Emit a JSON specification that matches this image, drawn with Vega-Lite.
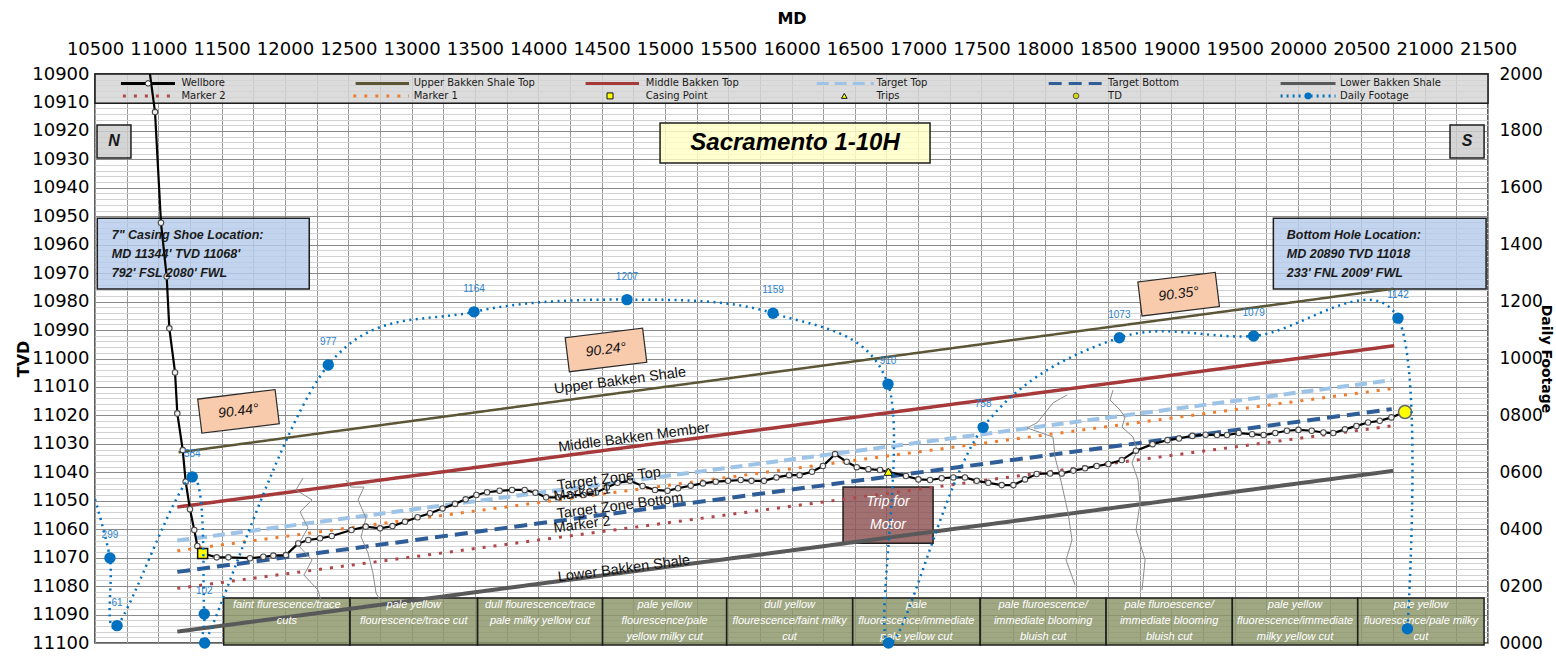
{
  "$schema": "https://vega.github.io/schema/vega-lite/v6.json",
  "width": 1393,
  "height": 569,
  "autosize": {"type": "none"},
  "padding": {"left": 95, "top": 74, "right": 68, "bottom": 20},
  "background": "#ffffff",
  "config": {
    "view": {"stroke": "#2b2b2b", "strokeWidth": 1.5},
    "font": "Liberation Sans",
    "axis": {"labelFont": "DejaVu Sans", "titleFont": "DejaVu Sans", "labelColor": "#000000", "titleColor": "#000000"}
  },
  "datasets": {
    "formations": [
      {"series": "Upper Bakken Shale Top", "MD": 11160, "TVD": 11033.0},
      {"series": "Upper Bakken Shale Top", "MD": 20750, "TVD": 10975.5},
      {"series": "Middle Bakken Top", "MD": 11150, "TVD": 11052.2},
      {"series": "Middle Bakken Top", "MD": 20760, "TVD": 10995.5},
      {"series": "Target Top", "MD": 11150, "TVD": 11064.0},
      {"series": "Target Top", "MD": 20740, "TVD": 11007.6},
      {"series": "Marker 1", "MD": 11150, "TVD": 11067.6},
      {"series": "Marker 1", "MD": 20740, "TVD": 11010.6},
      {"series": "Target Bottom", "MD": 11150, "TVD": 11075.0},
      {"series": "Target Bottom", "MD": 20740, "TVD": 11017.8},
      {"series": "Marker 2", "MD": 11150, "TVD": 11080.8},
      {"series": "Marker 2", "MD": 20740, "TVD": 11023.7},
      {"series": "Lower Bakken Shale", "MD": 11150, "TVD": 11096.0},
      {"series": "Lower Bakken Shale", "MD": 20750, "TVD": 11039.5}
    ],
    "gamma": [
      {"log": "a", "MD": 12143, "TVD": 11042.0}, {"log": "a", "MD": 12087, "TVD": 11046.2}, {"log": "a", "MD": 12214, "TVD": 11049.7}, {"log": "a", "MD": 12119, "TVD": 11053.9}, {"log": "a", "MD": 12182, "TVD": 11059.5}, {"log": "a", "MD": 12103, "TVD": 11065.6}, {"log": "a", "MD": 12214, "TVD": 11070.8}, {"log": "a", "MD": 12150, "TVD": 11076.1}, {"log": "a", "MD": 12261, "TVD": 11081.4}, {"log": "a", "MD": 12293, "TVD": 11086.6},
      {"log": "b", "MD": 12482, "TVD": 11042.7}, {"log": "b", "MD": 12522, "TVD": 11045.2}, {"log": "b", "MD": 12624, "TVD": 11045.2}, {"log": "b", "MD": 12577, "TVD": 11049.7}, {"log": "b", "MD": 12640, "TVD": 11056.1}, {"log": "b", "MD": 12601, "TVD": 11062.7}, {"log": "b", "MD": 12656, "TVD": 11068.4}, {"log": "b", "MD": 12695, "TVD": 11075.4}, {"log": "b", "MD": 12719, "TVD": 11082.4}, {"log": "b", "MD": 12751, "TVD": 11084.9},
      {"log": "c", "MD": 18176, "TVD": 11012.8}, {"log": "c", "MD": 18065, "TVD": 11015.6}, {"log": "c", "MD": 17939, "TVD": 11022.6}, {"log": "c", "MD": 17860, "TVD": 11024.4}, {"log": "c", "MD": 18065, "TVD": 11027.6}, {"log": "c", "MD": 18081, "TVD": 11034.6}, {"log": "c", "MD": 18121, "TVD": 11041.7}, {"log": "c", "MD": 18144, "TVD": 11046.2}, {"log": "c", "MD": 18184, "TVD": 11054.3}, {"log": "c", "MD": 18215, "TVD": 11063.8}, {"log": "c", "MD": 18168, "TVD": 11070.8}, {"log": "c", "MD": 18239, "TVD": 11079.6},
      {"log": "d", "MD": 18539, "TVD": 11011.1}, {"log": "d", "MD": 18515, "TVD": 11014.6}, {"log": "d", "MD": 18594, "TVD": 11018.1}, {"log": "d", "MD": 18634, "TVD": 11020.6}, {"log": "d", "MD": 18610, "TVD": 11024.1}, {"log": "d", "MD": 18697, "TVD": 11027.6}, {"log": "d", "MD": 18729, "TVD": 11032.2}, {"log": "d", "MD": 18689, "TVD": 11036.7}, {"log": "d", "MD": 18736, "TVD": 11042.7}, {"log": "d", "MD": 18752, "TVD": 11050.8}, {"log": "d", "MD": 18721, "TVD": 11060.3}, {"log": "d", "MD": 18792, "TVD": 11070.8}, {"log": "d", "MD": 18768, "TVD": 11081.4}
    ],
    "wellbore": [
      {"MD": 10934, "TVD": 10900.0}, {"MD": 10974, "TVD": 10913.4}, {"MD": 11021, "TVD": 10952.3}, {"MD": 11066, "TVD": 10971.2}, {"MD": 11087, "TVD": 10989.4}, {"MD": 11132, "TVD": 11004.9}, {"MD": 11150, "TVD": 11019.3}, {"MD": 11193, "TVD": 11032.2}, {"MD": 11216, "TVD": 11043.3}, {"MD": 11250, "TVD": 11053.0}, {"MD": 11284, "TVD": 11060.3}, {"MD": 11308, "TVD": 11065.9}, {"MD": 11350, "TVD": 11068.5},
      {"MD": 11461, "TVD": 11069.9}, {"MD": 11553, "TVD": 11069.9}, {"MD": 11724, "TVD": 11070.2}, {"MD": 11829, "TVD": 11069.7}, {"MD": 11908, "TVD": 11069.3}, {"MD": 12008, "TVD": 11069.1}, {"MD": 12105, "TVD": 11065.0}, {"MD": 12184, "TVD": 11063.8}, {"MD": 12277, "TVD": 11063.2}, {"MD": 12370, "TVD": 11062.4}, {"MD": 12525, "TVD": 11060.3}, {"MD": 12638, "TVD": 11059.1}, {"MD": 12751, "TVD": 11059.7}, {"MD": 12849, "TVD": 11058.9}, {"MD": 12948, "TVD": 11057.4}, {"MD": 13047, "TVD": 11055.8}, {"MD": 13146, "TVD": 11054.4}, {"MD": 13244, "TVD": 11052.7}, {"MD": 13343, "TVD": 11051.1}, {"MD": 13427, "TVD": 11049.5}, {"MD": 13512, "TVD": 11048.0}, {"MD": 13596, "TVD": 11047.0}, {"MD": 13695, "TVD": 11046.5}, {"MD": 13793, "TVD": 11046.2}, {"MD": 13893, "TVD": 11046.2}, {"MD": 13978, "TVD": 11047.2}, {"MD": 14062, "TVD": 11048.8}, {"MD": 14161, "TVD": 11048.8}, {"MD": 14259, "TVD": 11048.0}, {"MD": 14358, "TVD": 11048.0}, {"MD": 14456, "TVD": 11047.2}, {"MD": 14542, "TVD": 11045.3}, {"MD": 14626, "TVD": 11043.7}, {"MD": 14725, "TVD": 11043.0}, {"MD": 14824, "TVD": 11044.8}, {"MD": 14922, "TVD": 11046.2}, {"MD": 15021, "TVD": 11046.5}, {"MD": 15104, "TVD": 11045.6}, {"MD": 15204, "TVD": 11044.7}, {"MD": 15301, "TVD": 11043.9}, {"MD": 15402, "TVD": 11043.3}, {"MD": 15499, "TVD": 11043.0}, {"MD": 15599, "TVD": 11042.7}, {"MD": 15684, "TVD": 11043.0}, {"MD": 15783, "TVD": 11043.0}, {"MD": 15881, "TVD": 11041.8}, {"MD": 15981, "TVD": 11041.0}, {"MD": 16064, "TVD": 11041.0}, {"MD": 16162, "TVD": 11039.8}, {"MD": 16248, "TVD": 11037.8}, {"MD": 16344, "TVD": 11033.6}, {"MD": 16436, "TVD": 11036.3}, {"MD": 16515, "TVD": 11038.2}, {"MD": 16607, "TVD": 11038.9}, {"MD": 16699, "TVD": 11039.2}, {"MD": 16765, "TVD": 11039.8}, {"MD": 16904, "TVD": 11041.3}, {"MD": 17002, "TVD": 11042.5}, {"MD": 17094, "TVD": 11042.7}, {"MD": 17186, "TVD": 11042.1}, {"MD": 17278, "TVD": 11041.8}, {"MD": 17370, "TVD": 11041.8}, {"MD": 17463, "TVD": 11043.0}, {"MD": 17554, "TVD": 11043.7}, {"MD": 17660, "TVD": 11044.5}, {"MD": 17752, "TVD": 11044.5}, {"MD": 17844, "TVD": 11042.5}, {"MD": 17936, "TVD": 11040.6}, {"MD": 18042, "TVD": 11040.4}, {"MD": 18134, "TVD": 11040.4}, {"MD": 18226, "TVD": 11039.4}, {"MD": 18318, "TVD": 11038.6}, {"MD": 18410, "TVD": 11037.8}, {"MD": 18502, "TVD": 11037.1}, {"MD": 18608, "TVD": 11035.7}, {"MD": 18720, "TVD": 11032.4}, {"MD": 18851, "TVD": 11030.1}, {"MD": 18969, "TVD": 11028.7}, {"MD": 19060, "TVD": 11028.1}, {"MD": 19165, "TVD": 11027.2}, {"MD": 19270, "TVD": 11026.8}, {"MD": 19360, "TVD": 11026.9}, {"MD": 19439, "TVD": 11026.9}, {"MD": 19532, "TVD": 11026.2}, {"MD": 19637, "TVD": 11026.6}, {"MD": 19728, "TVD": 11026.9}, {"MD": 19820, "TVD": 11026.2}, {"MD": 19912, "TVD": 11025.4}, {"MD": 20003, "TVD": 11025.1}, {"MD": 20108, "TVD": 11025.4}, {"MD": 20200, "TVD": 11026.0}, {"MD": 20278, "TVD": 11026.2}, {"MD": 20370, "TVD": 11024.9}, {"MD": 20461, "TVD": 11023.7}, {"MD": 20553, "TVD": 11022.5}, {"MD": 20645, "TVD": 11021.9}, {"MD": 20737, "TVD": 11020.7}, {"MD": 20845, "TVD": 11018.8}
    ],
    "footage": [
      {"MD": 10500, "DF": 505, "label": "", "pt": false},
      {"MD": 10618, "DF": 299, "label": "299", "pt": true},
      {"MD": 10674, "DF": 61, "label": "61", "pt": true},
      {"MD": 11268, "DF": 584, "label": "584", "pt": true},
      {"MD": 11363, "DF": 102, "label": "102", "pt": true},
      {"MD": 11366, "DF": 0, "label": "", "pt": true},
      {"MD": 12342, "DF": 977, "label": "977", "pt": true},
      {"MD": 13493, "DF": 1164, "label": "1164", "pt": true},
      {"MD": 14701, "DF": 1207, "label": "1207", "pt": true},
      {"MD": 15854, "DF": 1159, "label": "1159", "pt": true},
      {"MD": 16762, "DF": 910, "label": "910", "pt": true},
      {"MD": 16766, "DF": 0, "label": "", "pt": true},
      {"MD": 17513, "DF": 758, "label": "758", "pt": true},
      {"MD": 18589, "DF": 1073, "label": "1073", "pt": true},
      {"MD": 19649, "DF": 1079, "label": "1079", "pt": true},
      {"MD": 20789, "DF": 1142, "label": "1142", "pt": true},
      {"MD": 20864, "DF": 50, "label": "", "pt": true}
    ],
    "boxes": [
      {"kind": "legend", "MD": 10500, "MD2": 21500, "TVD": 10900, "TVD2": 10910.3},
      {"kind": "compass", "MD": 10516, "MD2": 10784, "TVD": 10917.9, "TVD2": 10929.5},
      {"kind": "compass", "MD": 21200, "MD2": 21469, "TVD": 10917.9, "TVD2": 10929.5},
      {"kind": "title", "MD": 14962, "MD2": 17094, "TVD": 10917.2, "TVD2": 10931.3},
      {"kind": "location", "MD": 10518, "MD2": 12192, "TVD": 10950.7, "TVD2": 10975.6},
      {"kind": "location", "MD": 19805, "MD2": 21485, "TVD": 10950.7, "TVD2": 10975.6},
      {"kind": "trip", "MD": 16407, "MD2": 17118, "TVD": 11045.2, "TVD2": 11064.9},
      {"kind": "show", "MD": 11516, "MD2": 12514, "TVD": 11084.2, "TVD2": 11100.7},
      {"kind": "show", "MD": 12514, "MD2": 13521, "TVD": 11084.2, "TVD2": 11100.7},
      {"kind": "show", "MD": 13521, "MD2": 14508, "TVD": 11084.2, "TVD2": 11100.7},
      {"kind": "show", "MD": 14508, "MD2": 15488, "TVD": 11084.2, "TVD2": 11100.7},
      {"kind": "show", "MD": 15488, "MD2": 16483, "TVD": 11084.2, "TVD2": 11100.7},
      {"kind": "show", "MD": 16483, "MD2": 17490, "TVD": 11084.2, "TVD2": 11100.7},
      {"kind": "show", "MD": 17490, "MD2": 18484, "TVD": 11084.2, "TVD2": 11100.7},
      {"kind": "show", "MD": 18484, "MD2": 19481, "TVD": 11084.2, "TVD2": 11100.7},
      {"kind": "show", "MD": 19481, "MD2": 20471, "TVD": 11084.2, "TVD2": 11100.7},
      {"kind": "show", "MD": 20471, "MD2": 21469, "TVD": 11084.2, "TVD2": 11100.7}
    ],
    "texts": [
      {"kind": "compass", "txt": "N", "MD": 10650, "TVD": 10923.7},
      {"kind": "compass", "txt": "S", "MD": 21335, "TVD": 10923.7},
      {"kind": "title", "txt": "Sacramento 1-10H", "MD": 16028, "TVD": 10924.3},
      {"kind": "location", "txt": "7\" Casing  Shoe  Location:\nMD 11344'  TVD  11068'\n792' FSL 2080'  FWL", "MD": 10632, "TVD": 10954.6},
      {"kind": "location", "txt": "Bottom Hole  Location:\nMD 20890  TVD 11018\n233' FNL 2009'  FWL", "MD": 19911, "TVD": 10954.6},
      {"kind": "trip", "txt": "Trip for\nMotor", "MD": 16762, "TVD": 11048.0},
      {"kind": "show", "txt": "faint flurescence/trace\ncuts", "MD": 12015, "TVD": 11084.6},
      {"kind": "show", "txt": "pale yellow\nflourescence/trace cut", "MD": 13017, "TVD": 11084.6},
      {"kind": "show", "txt": "dull flourescence/trace\npale milky yellow cut", "MD": 14014, "TVD": 11084.6},
      {"kind": "show", "txt": "pale yellow\nflourescence/pale\nyellow milky cut", "MD": 14998, "TVD": 11084.6},
      {"kind": "show", "txt": "dull yellow\nflourescence/faint milky\ncut", "MD": 15985, "TVD": 11084.6},
      {"kind": "show", "txt": "pale\nfluorescence/immediate\npale yellow cut", "MD": 16986, "TVD": 11084.6},
      {"kind": "show", "txt": "pale fluroescence/\nimmediate blooming\nbluish cut", "MD": 17987, "TVD": 11084.6},
      {"kind": "show", "txt": "pale fluroescence/\nimmediate blooming\nbluish cut", "MD": 18982, "TVD": 11084.6},
      {"kind": "show", "txt": "pale yellow\nfluorescence/immediate\nmilky yellow cut", "MD": 19976, "TVD": 11084.6},
      {"kind": "show", "txt": "pale yellow\nfluorescence/pale milky\ncut", "MD": 20970, "TVD": 11084.6}
    ],
    "flabels": [
      {"txt": "Upper Bakken Shale", "MD": 14646, "TVD": 11007.9},
      {"txt": "Middle Bakken Member", "MD": 14757, "TVD": 11027.9},
      {"txt": "Target Zone Top", "MD": 14559, "TVD": 11042.4},
      {"txt": "Marker 1", "MD": 14346, "TVD": 11047.3},
      {"txt": "Target Zone Bottom", "MD": 14646, "TVD": 11051.9},
      {"txt": "Marker 2", "MD": 14346, "TVD": 11058.5},
      {"txt": "Lower Bakken Shale", "MD": 14677, "TVD": 11074.0}
    ],
    "angles": [
      {"txt": "90.44°", "MD": 11633, "TVD": 11018.6},
      {"txt": "90.24°", "MD": 14535, "TVD": 10997.0},
      {"txt": "90.35°", "MD": 19057, "TVD": 10977.4}
    ],
    "legendLines": [
      {"series": "Wellbore", "MD": 10705, "MD2": 11132, "TVD": 10903.3},
      {"series": "Upper Bakken Shale Top", "MD": 12558, "MD2": 12980, "TVD": 10903.3},
      {"series": "Middle Bakken Top", "MD": 14374, "MD2": 14796, "TVD": 10903.3},
      {"series": "Target Top", "MD": 16199, "MD2": 16652, "TVD": 10903.3},
      {"series": "Target Bottom", "MD": 18031, "MD2": 18484, "TVD": 10903.3},
      {"series": "Lower Bakken Shale", "MD": 19862, "MD2": 20296, "TVD": 10903.3},
      {"series": "Marker 2", "MD": 10720, "MD2": 11132, "TVD": 10907.7},
      {"series": "Marker 1", "MD": 12540, "MD2": 12980, "TVD": 10907.7},
      {"series": "Daily Footage", "MD": 19862, "MD2": 20296, "TVD": 10907.7}
    ],
    "legendLabels": [
      {"txt": "Wellbore", "MD": 11183, "TVD": 10903.3},
      {"txt": "Upper Bakken Shale Top", "MD": 13017, "TVD": 10903.3},
      {"txt": "Middle Bakken Top", "MD": 14850, "TVD": 10903.3},
      {"txt": "Target Top", "MD": 16671, "TVD": 10903.3},
      {"txt": "Target Bottom", "MD": 18500, "TVD": 10903.3},
      {"txt": "Lower Bakken Shale", "MD": 20332, "TVD": 10903.3},
      {"txt": "Marker 2", "MD": 11183, "TVD": 10907.7},
      {"txt": "Marker 1", "MD": 13017, "TVD": 10907.7},
      {"txt": "Casing Point", "MD": 14850, "TVD": 10907.7},
      {"txt": "Trips", "MD": 16671, "TVD": 10907.7},
      {"txt": "TD", "MD": 18500, "TVD": 10907.7},
      {"txt": "Daily Footage", "MD": 20332, "TVD": 10907.7}
    ],
    "symbols": [
      {"sym": "casing", "MD": 11350, "TVD": 11068.5},
      {"sym": "trips", "MD": 16765, "TVD": 11039.8},
      {"sym": "td", "MD": 20845, "TVD": 11018.8},
      {"sym": "wbL", "MD": 10919, "TVD": 10903.3},
      {"sym": "casingL", "MD": 14567, "TVD": 10907.7},
      {"sym": "tripsL", "MD": 16417, "TVD": 10907.7},
      {"sym": "tdL", "MD": 18247, "TVD": 10907.7},
      {"sym": "dfL", "MD": 20079, "TVD": 10907.7}
    ]
  },
  "layer": [
    {
      "data": {"name": "formations"},
      "mark": {"type": "point", "opacity": 0},
      "encoding": {
        "x": {"field": "MD", "type": "quantitative", "scale": {"domain": [10500, 21500], "nice": false, "zero": false},
          "axis": {"orient": "top", "title": "MD", "values": [10500, 10750, 11000, 11250, 11500, 11750, 12000, 12250, 12500, 12750, 13000, 13250, 13500, 13750, 14000, 14250, 14500, 14750, 15000, 15250, 15500, 15750, 16000, 16250, 16500, 16750, 17000, 17250, 17500, 17750, 18000, 18250, 18500, 18750, 19000, 19250, 19500, 19750, 20000, 20250, 20500, 20750, 21000, 21250, 21500], "labelExpr": "datum.value % 500 === 0 ? format(datum.value, 'd') : ''", "grid": true, "gridColor": "#999999", "ticks": false, "labelFontSize": 18, "labelPadding": 16, "labelOverlap": false, "labelFlush": false, "titleFontSize": 16, "titleFontWeight": "bold", "titlePadding": 14, "domain": false}},
        "y": {"field": "TVD", "type": "quantitative", "scale": {"domain": [10900, 11100], "reverse": true, "nice": false, "zero": false},
          "axis": {"orient": "left", "title": "TVD", "values": [10900, 10902, 10904, 10906, 10908, 10910, 10912, 10914, 10916, 10918, 10920, 10922, 10924, 10926, 10928, 10930, 10932, 10934, 10936, 10938, 10940, 10942, 10944, 10946, 10948, 10950, 10952, 10954, 10956, 10958, 10960, 10962, 10964, 10966, 10968, 10970, 10972, 10974, 10976, 10978, 10980, 10982, 10984, 10986, 10988, 10990, 10992, 10994, 10996, 10998, 11000, 11002, 11004, 11006, 11008, 11010, 11012, 11014, 11016, 11018, 11020, 11022, 11024, 11026, 11028, 11030, 11032, 11034, 11036, 11038, 11040, 11042, 11044, 11046, 11048, 11050, 11052, 11054, 11056, 11058, 11060, 11062, 11064, 11066, 11068, 11070, 11072, 11074, 11076, 11078, 11080, 11082, 11084, 11086, 11088, 11090, 11092, 11094, 11096, 11098, 11100], "labelExpr": "datum.value % 10 === 0 ? format(datum.value, 'd') : ''", "grid": true, "gridColor": "#d2d2d2", "ticks": false, "labelFontSize": 18, "labelPadding": 6, "labelOverlap": false, "labelFlush": false, "titleFontSize": 16, "titleFontWeight": "bold", "titlePadding": 0, "domain": false}}
      }
    },
    {
      "data": {"name": "footage"},
      "mark": {"type": "point", "opacity": 0},
      "encoding": {
        "x": {"field": "MD", "type": "quantitative", "axis": null},
        "y": {"field": "DF", "type": "quantitative", "scale": {"domain": [0, 2000], "nice": false, "zero": false},
          "axis": {"orient": "right", "title": "Daily Footage", "values": [0, 100, 200, 300, 400, 500, 600, 700, 800, 900, 1000, 1100, 1200, 1300, 1400, 1500, 1600, 1700, 1800, 1900, 2000], "labelExpr": "datum.value % 200 === 0 ? format(datum.value, '04d') : ''", "grid": true, "gridColor": "#8a8a8a", "ticks": false, "labelFontSize": 17, "labelPadding": 11, "labelOverlap": false, "labelFlush": false, "titleFontSize": 14, "titleFontWeight": "bold", "titlePadding": -4, "domain": false}}
      }
    },
    {
      "data": {"name": "boxes"},
      "mark": {"type": "rect", "stroke": "#1e1e1e", "strokeWidth": 1.5, "fillOpacity": 0.82},
      "encoding": {
        "x": {"field": "MD", "type": "quantitative", "axis": null},
        "x2": {"field": "MD2"},
        "y": {"field": "TVD", "type": "quantitative", "scale": {"domain": [10900, 11100], "reverse": true, "nice": false, "zero": false}, "axis": null},
        "y2": {"field": "TVD2"},
        "fill": {"field": "kind", "type": "nominal", "scale": {"domain": ["legend", "compass", "title", "location", "trip", "show"], "range": ["#d4d4d4", "#cccccc", "#ffffc6", "#b4cbea", "#8c5252", "#8a9468"]}, "legend": null}
      }
    },
    {
      "data": {"name": "formations"},
      "transform": [{"filter": "datum.series === 'Upper Bakken Shale Top'"}],
      "mark": {"type": "line", "strokeWidth": 2.5, "strokeCap": "butt"},
      "encoding": {
        "x": {"field": "MD", "type": "quantitative", "axis": null},
        "y": {"field": "TVD", "type": "quantitative", "scale": {"domain": [10900, 11100], "reverse": true, "nice": false, "zero": false}, "axis": null},
        "color": {"field": "series", "type": "nominal", "scale": {"domain": ["Wellbore", "Upper Bakken Shale Top", "Middle Bakken Top", "Target Top", "Target Bottom", "Lower Bakken Shale", "Marker 2", "Marker 1", "Daily Footage"], "range": ["#000000", "#5a5636", "#a63a3b", "#9dc3e6", "#2f5d98", "#595959", "#b0474a", "#ee7d2e", "#0070c0"]}, "legend": null},
        "strokeDash": {"field": "series", "type": "nominal", "scale": {"domain": ["Wellbore", "Upper Bakken Shale Top", "Middle Bakken Top", "Target Top", "Target Bottom", "Lower Bakken Shale", "Marker 2", "Marker 1", "Daily Footage"], "range": [[1, 0], [1, 0], [1, 0], [12, 6], [13, 7], [1, 0], [3, 8], [3, 8], [2, 4]]}, "legend": null}
      }
    },
    {
      "data": {"name": "formations"},
      "transform": [{"filter": "datum.series === 'Middle Bakken Top'"}],
      "mark": {"type": "line", "strokeWidth": 3.5, "strokeCap": "butt"},
      "encoding": {
        "x": {"field": "MD", "type": "quantitative", "axis": null},
        "y": {"field": "TVD", "type": "quantitative", "scale": {"domain": [10900, 11100], "reverse": true, "nice": false, "zero": false}, "axis": null},
        "color": {"field": "series", "type": "nominal", "legend": null},
        "strokeDash": {"field": "series", "type": "nominal", "legend": null}
      }
    },
    {
      "data": {"name": "formations"},
      "transform": [{"filter": "datum.series === 'Target Top' || datum.series === 'Target Bottom' || datum.series === 'Lower Bakken Shale'"}],
      "mark": {"type": "line", "strokeWidth": 4, "strokeCap": "butt"},
      "encoding": {
        "x": {"field": "MD", "type": "quantitative", "axis": null},
        "y": {"field": "TVD", "type": "quantitative", "scale": {"domain": [10900, 11100], "reverse": true, "nice": false, "zero": false}, "axis": null},
        "color": {"field": "series", "type": "nominal", "legend": null},
        "strokeDash": {"field": "series", "type": "nominal", "legend": null}
      }
    },
    {
      "data": {"name": "formations"},
      "transform": [{"filter": "datum.series === 'Marker 1' || datum.series === 'Marker 2'"}],
      "mark": {"type": "line", "strokeWidth": 3, "strokeCap": "butt"},
      "encoding": {
        "x": {"field": "MD", "type": "quantitative", "axis": null},
        "y": {"field": "TVD", "type": "quantitative", "scale": {"domain": [10900, 11100], "reverse": true, "nice": false, "zero": false}, "axis": null},
        "color": {"field": "series", "type": "nominal", "legend": null},
        "strokeDash": {"field": "series", "type": "nominal", "legend": null}
      }
    },
    {
      "data": {"name": "gamma"},
      "mark": {"type": "line", "color": "#8c8c8c", "strokeWidth": 1},
      "encoding": {
        "x": {"field": "MD", "type": "quantitative", "axis": null},
        "y": {"field": "TVD", "type": "quantitative", "scale": {"domain": [10900, 11100], "reverse": true, "nice": false, "zero": false}, "axis": null},
        "detail": {"field": "log", "type": "nominal"},
        "order": {"field": "TVD", "type": "quantitative"}
      }
    },
    {
      "data": {"name": "legendLines"},
      "mark": {"type": "rule", "strokeWidth": 3, "strokeCap": "butt"},
      "encoding": {
        "x": {"field": "MD", "type": "quantitative", "axis": null},
        "x2": {"field": "MD2"},
        "y": {"field": "TVD", "type": "quantitative", "scale": {"domain": [10900, 11100], "reverse": true, "nice": false, "zero": false}, "axis": null},
        "color": {"field": "series", "type": "nominal", "legend": null},
        "strokeDash": {"field": "series", "type": "nominal", "legend": null}
      }
    },
    {
      "data": {"name": "wellbore"},
      "mark": {"type": "line", "color": "#000000", "strokeWidth": 2.2, "clip": true},
      "encoding": {
        "x": {"field": "MD", "type": "quantitative", "axis": null},
        "y": {"field": "TVD", "type": "quantitative", "scale": {"domain": [10900, 11100], "reverse": true, "nice": false, "zero": false}, "axis": null}
      }
    },
    {
      "data": {"name": "wellbore"},
      "transform": [{"filter": "datum.TVD > 10906"}],
      "mark": {"type": "point", "filled": true, "fill": "#f2f2f2", "stroke": "#4a4a4a", "strokeWidth": 1.1, "size": 30, "opacity": 1},
      "encoding": {
        "x": {"field": "MD", "type": "quantitative", "axis": null},
        "y": {"field": "TVD", "type": "quantitative", "scale": {"domain": [10900, 11100], "reverse": true, "nice": false, "zero": false}, "axis": null}
      }
    },
    {
      "data": {"name": "symbols"},
      "transform": [{"filter": "datum.sym === 'casing'"}],
      "mark": {"type": "point", "shape": "square", "filled": true, "fill": "#ffff00", "stroke": "#111111", "strokeWidth": 1.5, "size": 100, "opacity": 1},
      "encoding": {"x": {"field": "MD", "type": "quantitative", "axis": null}, "y": {"field": "TVD", "type": "quantitative", "scale": {"domain": [10900, 11100], "reverse": true, "nice": false, "zero": false}, "axis": null}}
    },
    {
      "data": {"name": "symbols"},
      "transform": [{"filter": "datum.sym === 'trips'"}],
      "mark": {"type": "point", "shape": "triangle-up", "filled": true, "fill": "#ffff00", "stroke": "#111111", "strokeWidth": 1, "size": 70, "opacity": 1},
      "encoding": {"x": {"field": "MD", "type": "quantitative", "axis": null}, "y": {"field": "TVD", "type": "quantitative", "scale": {"domain": [10900, 11100], "reverse": true, "nice": false, "zero": false}, "axis": null}}
    },
    {
      "data": {"name": "symbols"},
      "transform": [{"filter": "datum.sym === 'td'"}],
      "mark": {"type": "point", "shape": "circle", "filled": true, "fill": "#ffff00", "stroke": "#666666", "strokeWidth": 1.5, "size": 170, "opacity": 1},
      "encoding": {"x": {"field": "MD", "type": "quantitative", "axis": null}, "y": {"field": "TVD", "type": "quantitative", "scale": {"domain": [10900, 11100], "reverse": true, "nice": false, "zero": false}, "axis": null}}
    },
    {
      "data": {"name": "symbols"},
      "transform": [{"filter": "datum.sym === 'wbL'"}],
      "mark": {"type": "point", "shape": "circle", "filled": true, "fill": "#ffffff", "stroke": "#222222", "strokeWidth": 1, "size": 30, "opacity": 1},
      "encoding": {"x": {"field": "MD", "type": "quantitative", "axis": null}, "y": {"field": "TVD", "type": "quantitative", "scale": {"domain": [10900, 11100], "reverse": true, "nice": false, "zero": false}, "axis": null}}
    },
    {
      "data": {"name": "symbols"},
      "transform": [{"filter": "datum.sym === 'casingL'"}],
      "mark": {"type": "point", "shape": "square", "filled": true, "fill": "#ffff00", "stroke": "#111111", "strokeWidth": 1, "size": 36, "opacity": 1},
      "encoding": {"x": {"field": "MD", "type": "quantitative", "axis": null}, "y": {"field": "TVD", "type": "quantitative", "scale": {"domain": [10900, 11100], "reverse": true, "nice": false, "zero": false}, "axis": null}}
    },
    {
      "data": {"name": "symbols"},
      "transform": [{"filter": "datum.sym === 'tripsL'"}],
      "mark": {"type": "point", "shape": "triangle-up", "filled": true, "fill": "#ffff00", "stroke": "#111111", "strokeWidth": 1, "size": 32, "opacity": 1},
      "encoding": {"x": {"field": "MD", "type": "quantitative", "axis": null}, "y": {"field": "TVD", "type": "quantitative", "scale": {"domain": [10900, 11100], "reverse": true, "nice": false, "zero": false}, "axis": null}}
    },
    {
      "data": {"name": "symbols"},
      "transform": [{"filter": "datum.sym === 'tdL'"}],
      "mark": {"type": "point", "shape": "circle", "filled": true, "fill": "#d8d800", "stroke": "#555555", "strokeWidth": 1, "size": 32, "opacity": 1},
      "encoding": {"x": {"field": "MD", "type": "quantitative", "axis": null}, "y": {"field": "TVD", "type": "quantitative", "scale": {"domain": [10900, 11100], "reverse": true, "nice": false, "zero": false}, "axis": null}}
    },
    {
      "data": {"name": "symbols"},
      "transform": [{"filter": "datum.sym === 'dfL'"}],
      "mark": {"type": "point", "shape": "circle", "filled": true, "fill": "#0070c0", "size": 45, "opacity": 1},
      "encoding": {"x": {"field": "MD", "type": "quantitative", "axis": null}, "y": {"field": "TVD", "type": "quantitative", "scale": {"domain": [10900, 11100], "reverse": true, "nice": false, "zero": false}, "axis": null}}
    },
    {
      "data": {"name": "angles"},
      "mark": {"type": "point", "shape": "M-1,-0.44L1,-0.44L1,0.44L-1,0.44Z", "size": 6084, "angle": 353, "filled": true, "fill": "#f8cbad", "stroke": "#2a2a2a", "strokeWidth": 1.2, "opacity": 1},
      "encoding": {"x": {"field": "MD", "type": "quantitative", "axis": null}, "y": {"field": "TVD", "type": "quantitative", "scale": {"domain": [10900, 11100], "reverse": true, "nice": false, "zero": false}, "axis": null}}
    },
    {
      "data": {"name": "angles"},
      "mark": {"type": "text", "angle": 353, "fontSize": 14, "fontStyle": "italic", "color": "#111111", "align": "center", "baseline": "middle"},
      "encoding": {"x": {"field": "MD", "type": "quantitative", "axis": null}, "y": {"field": "TVD", "type": "quantitative", "scale": {"domain": [10900, 11100], "reverse": true, "nice": false, "zero": false}, "axis": null}, "text": {"field": "txt"}}
    },
    {
      "data": {"name": "flabels"},
      "mark": {"type": "text", "angle": 352.5, "fontSize": 14.5, "color": "#111111", "align": "center", "baseline": "middle"},
      "encoding": {"x": {"field": "MD", "type": "quantitative", "axis": null}, "y": {"field": "TVD", "type": "quantitative", "scale": {"domain": [10900, 11100], "reverse": true, "nice": false, "zero": false}, "axis": null}, "text": {"field": "txt"}}
    },
    {
      "data": {"name": "texts"},
      "transform": [{"filter": "datum.kind === 'compass'"}],
      "mark": {"type": "text", "fontSize": 16, "fontWeight": "bold", "fontStyle": "italic", "color": "#1a1a1a", "align": "center", "baseline": "middle"},
      "encoding": {"x": {"field": "MD", "type": "quantitative", "axis": null}, "y": {"field": "TVD", "type": "quantitative", "scale": {"domain": [10900, 11100], "reverse": true, "nice": false, "zero": false}, "axis": null}, "text": {"field": "txt"}}
    },
    {
      "data": {"name": "texts"},
      "transform": [{"filter": "datum.kind === 'title'"}],
      "mark": {"type": "text", "fontSize": 24, "fontWeight": "bold", "fontStyle": "italic", "color": "#000000", "align": "center", "baseline": "middle"},
      "encoding": {"x": {"field": "MD", "type": "quantitative", "axis": null}, "y": {"field": "TVD", "type": "quantitative", "scale": {"domain": [10900, 11100], "reverse": true, "nice": false, "zero": false}, "axis": null}, "text": {"field": "txt"}}
    },
    {
      "data": {"name": "texts"},
      "transform": [{"filter": "datum.kind === 'location'"}],
      "mark": {"type": "text", "fontSize": 12.5, "fontWeight": "bold", "fontStyle": "italic", "color": "#1a1a1a", "align": "left", "baseline": "top", "lineBreak": "\n", "lineHeight": 19},
      "encoding": {"x": {"field": "MD", "type": "quantitative", "axis": null}, "y": {"field": "TVD", "type": "quantitative", "scale": {"domain": [10900, 11100], "reverse": true, "nice": false, "zero": false}, "axis": null}, "text": {"field": "txt"}}
    },
    {
      "data": {"name": "texts"},
      "transform": [{"filter": "datum.kind === 'trip'"}],
      "mark": {"type": "text", "fontSize": 14, "fontStyle": "italic", "color": "#ffffff", "align": "center", "baseline": "top", "lineBreak": "\n", "lineHeight": 23},
      "encoding": {"x": {"field": "MD", "type": "quantitative", "axis": null}, "y": {"field": "TVD", "type": "quantitative", "scale": {"domain": [10900, 11100], "reverse": true, "nice": false, "zero": false}, "axis": null}, "text": {"field": "txt"}}
    },
    {
      "data": {"name": "texts"},
      "transform": [{"filter": "datum.kind === 'show'"}],
      "mark": {"type": "text", "fontSize": 11, "fontStyle": "italic", "color": "#ffffff", "align": "center", "baseline": "top", "lineBreak": "\n", "lineHeight": 16},
      "encoding": {"x": {"field": "MD", "type": "quantitative", "axis": null}, "y": {"field": "TVD", "type": "quantitative", "scale": {"domain": [10900, 11100], "reverse": true, "nice": false, "zero": false}, "axis": null}, "text": {"field": "txt"}}
    },
    {
      "data": {"name": "legendLabels"},
      "mark": {"type": "text", "font": "DejaVu Sans", "fontSize": 10, "color": "#1a1a1a", "align": "left", "baseline": "middle"},
      "encoding": {"x": {"field": "MD", "type": "quantitative", "axis": null}, "y": {"field": "TVD", "type": "quantitative", "scale": {"domain": [10900, 11100], "reverse": true, "nice": false, "zero": false}, "axis": null}, "text": {"field": "txt"}}
    },
    {
      "data": {"name": "footage"},
      "mark": {"type": "line", "interpolate": "cardinal", "color": "#0070c0", "strokeWidth": 2.5, "strokeDash": [2, 4.5], "clip": true},
      "encoding": {
        "x": {"field": "MD", "type": "quantitative", "axis": null},
        "y": {"field": "DF", "type": "quantitative", "scale": {"domain": [0, 2000], "nice": false, "zero": false}, "axis": null}
      }
    },
    {
      "data": {"name": "footage"},
      "transform": [{"filter": "datum.pt"}],
      "mark": {"type": "point", "filled": true, "color": "#0070c0", "size": 130, "opacity": 1},
      "encoding": {
        "x": {"field": "MD", "type": "quantitative", "axis": null},
        "y": {"field": "DF", "type": "quantitative", "scale": {"domain": [0, 2000], "nice": false, "zero": false}, "axis": null}
      }
    },
    {
      "data": {"name": "footage"},
      "transform": [{"filter": "datum.label !== ''"}],
      "mark": {"type": "text", "dy": -23, "fontSize": 10, "color": "#2a82d0", "align": "center", "baseline": "middle"},
      "encoding": {
        "x": {"field": "MD", "type": "quantitative", "axis": null},
        "y": {"field": "DF", "type": "quantitative", "scale": {"domain": [0, 2000], "nice": false, "zero": false}, "axis": null},
        "text": {"field": "label"}
      }
    }
  ],
  "resolve": {"scale": {"y": "independent"}, "axis": {"x": "independent"}}
}
